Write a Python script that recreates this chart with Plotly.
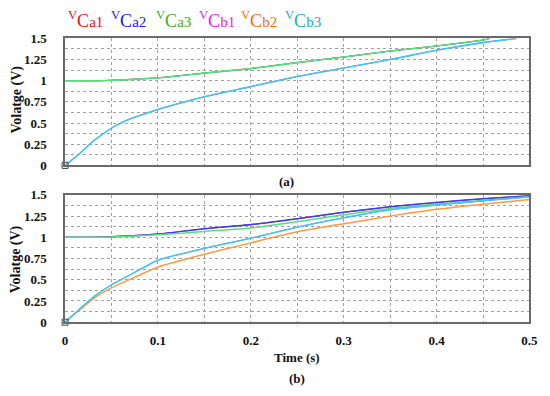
import plotly.graph_objects as go

# ---- data ----
# (a) top panel: all "a" capacitors overlap, all "b" capacitors overlap
t_a_up = [0, 0.037, 0.1, 0.15, 0.2, 0.25, 0.3, 0.35, 0.4, 0.45, 0.457]
v_a_up = [1.0, 1.0, 1.034, 1.09, 1.144, 1.214, 1.28, 1.35, 1.41, 1.48, 1.5]
t_b_up = [0, 0.014, 0.032, 0.05, 0.067, 0.1, 0.15, 0.2, 0.25, 0.3, 0.35, 0.4, 0.45, 0.486]
v_b_up = [0, 0.125, 0.30, 0.44, 0.535, 0.66, 0.81, 0.93, 1.05, 1.15, 1.25, 1.36, 1.45, 1.5]

# (b) bottom panel
t_lo = [0, 0.02, 0.05, 0.1, 0.15, 0.2, 0.25, 0.3, 0.35, 0.4, 0.45, 0.5]
v_ca2_lo = [1.0, 1.0, 1.008, 1.04, 1.10, 1.15, 1.22, 1.295, 1.36, 1.41, 1.455, 1.49]
v_ca3_lo = [1.0, 1.0, 1.004, 1.03, 1.07, 1.11, 1.185, 1.265, 1.34, 1.39, 1.435, 1.477]
t_lo_b = [0, 0.014, 0.032, 0.05, 0.067, 0.1, 0.15, 0.2, 0.25, 0.3, 0.35, 0.4, 0.45, 0.5]
v_cb3_lo = [0, 0.14, 0.31, 0.44, 0.54, 0.73, 0.87, 0.99, 1.12, 1.23, 1.325, 1.38, 1.43, 1.477]
v_cb2_lo = [0, 0.13, 0.29, 0.405, 0.49, 0.65, 0.80, 0.935, 1.065, 1.16, 1.25, 1.33, 1.39, 1.447]

legend_names = ["a1", "a2", "a3", "b1", "b2", "b3"]
legend_colors = ["#ee1111", "#1a1aee", "#44aa22", "#ee22ee", "#ff6a10", "#22b0b0"]

line_red = "#ff3333"
line_blue = "#3a3af0"
line_green = "#5ade7c"
line_magenta = "#ff44ff"
line_orange = "#ff9a40"
line_cyan = "#3cc8f2"

W, H = 550, 396
OX, OY = 8, 8   # page body margin offset
FONT = "Liberation Serif"

fig = go.Figure()

def add(x, y, color, xa, ya, width=1.5):
    fig.add_trace(go.Scatter(x=x, y=y, mode="lines",
                             line=dict(color=color, width=width, shape="spline", smoothing=0.6),
                             xaxis=xa, yaxis=ya, showlegend=False, hoverinfo="skip"))

# top panel (overlapping series)
add(t_a_up, v_a_up, line_red, "x", "y", 1.0)
add(t_a_up, v_a_up, line_blue, "x", "y", 1.0)
add(t_a_up, v_a_up, line_green, "x", "y", 1.6)
add(t_b_up, v_b_up, line_magenta, "x", "y", 1.0)
add(t_b_up, v_b_up, line_orange, "x", "y", 1.0)
add(t_b_up, v_b_up, line_cyan, "x", "y", 1.6)

# bottom panel
add(t_lo, v_ca2_lo, line_red, "x2", "y2", 1.0)
add(t_lo, v_ca2_lo, line_blue, "x2", "y2")
add(t_lo, v_ca3_lo, line_green, "x2", "y2")
add(t_lo_b, v_cb2_lo, line_orange, "x2", "y2")
add(t_lo_b, v_cb3_lo, line_magenta, "x2", "y2", 1.0)
add(t_lo_b, v_cb3_lo, line_cyan, "x2", "y2")

# origin markers
for xa, ya in (("x", "y"), ("x2", "y2")):
    fig.add_trace(go.Scatter(x=[0], y=[0], mode="markers", xaxis=xa, yaxis=ya,
                             marker=dict(symbol="square-open", size=6, color="#444",
                                         line=dict(width=1, color="#444")),
                             showlegend=False, hoverinfo="skip", cliponaxis=False))

def px(x):
    return (x - OX) / W

def py(y):
    return 1 - (y - OY) / H

px_l, px_r = 63.3, 538
top_t, top_b = 32.3, 164.3
bot_t, bot_b = 195, 327.3
xd = [px(px_l), px(px_r)]

grid = dict(showgrid=True, gridcolor="#a0a0a0", griddash="dot", gridwidth=1)
tickfont = dict(family=FONT, size=13, color="#111")

xcommon = dict(range=[0, 0.5], domain=xd, showline=True,
               linecolor="#6a6a6a", linewidth=1.5, mirror=True, zeroline=False, ticks="",
               minor=dict(dtick=0.05, tick0=0, showgrid=True, gridcolor="#a0a0a0", griddash="dot"),
               **grid)
ycommon = dict(range=[0, 1.5], tickvals=[0, 0.25, 0.5, 0.75, 1, 1.25, 1.5],
               ticktext=["<b>0</b>", "<b>0.25</b>", "<b>0.5</b>", "<b>0.75</b>", "<b>1</b>",
                         "<b>1.25</b>", "<b>1.5</b>"],
               showline=True, linecolor="#6a6a6a", linewidth=1.5, mirror=True,
               zeroline=False, ticks="", tickfont=tickfont, ticklabelstandoff=14,
               minor=dict(dtick=0.125, tick0=0, showgrid=True, gridcolor="#a0a0a0", griddash="dot"),
               **grid)

fig.update_layout(
    width=W, height=H,
    margin=dict(l=0, r=0, t=0, b=0),
    paper_bgcolor="white", plot_bgcolor="white",
    xaxis=dict(anchor="y", showticklabels=False,
               tickvals=[0, 0.1, 0.2, 0.3, 0.4, 0.5], **xcommon),
    yaxis=dict(anchor="x", domain=[py(top_b), py(top_t)], **ycommon),
    xaxis2=dict(anchor="y2", showticklabels=True, tickfont=tickfont,
                tickvals=[0, 0.1, 0.2, 0.3, 0.4, 0.5],
                ticktext=["<b>0</b>", "<b>0.1</b>", "<b>0.2</b>", "<b>0.3</b>",
                          "<b>0.4</b>", "<b>0.5</b>"],
                ticklabelstandoff=5, ticklabeloverflow="allow",
                **xcommon),
    yaxis2=dict(anchor="x2", domain=[py(bot_b), py(bot_t)], **ycommon),
)

ann = []
def text(x, y, s, size=13, angle=0, color="#111"):
    ann.append(dict(x=px(x), y=py(y), xref="paper", yref="paper", text=s,
                    showarrow=False, textangle=angle,
                    font=dict(family=FONT, size=size, color=color),
                    xanchor="center", yanchor="middle"))

text(14, 96, "<b>Volatge (V)</b>", size=14, angle=-90)
text(14, 262, "<b>Volatge (V)</b>", size=14, angle=-90)
text(290, 181, "<b>(a)</b>")
text(300, 364, "<b>Time (s)</b>")
text(300, 386, "<b>(b)</b>")

leg_x = [84, 128, 174, 219, 262, 307]
for name, col, lx in zip(legend_names, legend_colors, leg_x):
    text(lx, 13, "<sup>V</sup>C<span style='font-size:15px'>" + name + "</span>",
         size=18, color=col)

fig.update_layout(annotations=ann)
fig.write_html("out.html", config={"displayModeBar": False})
